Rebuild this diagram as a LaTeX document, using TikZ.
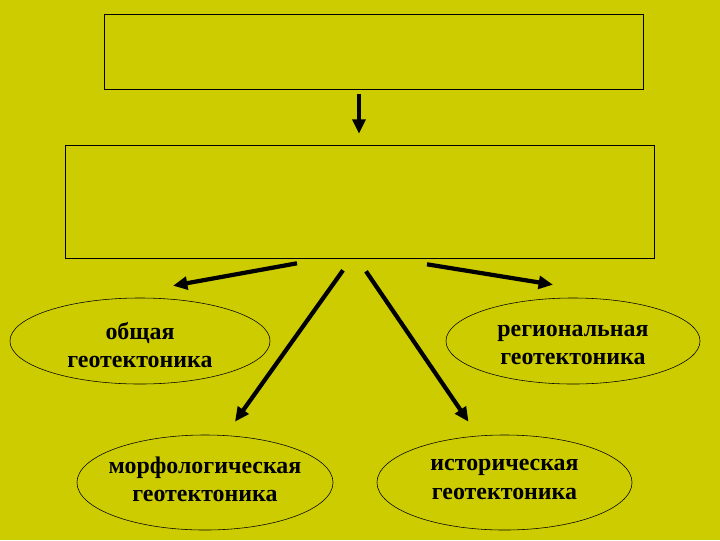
\documentclass[tikz,border=0pt]{standalone}
\usepackage{fontspec}
\setmainfont{Liberation Serif}
\usepackage{tikz}
\usetikzlibrary{arrows, arrows.meta, calc, positioning, shapes.geometric}
\definecolor{olivebg}{RGB}{204,204,0}
\tikzset{
>={Triangle[length=3.6mm, width=3.2mm]}, % filled triangular heads
box/.style={draw, thin, minimum width=#1, inner sep=0pt},
branch/.style={draw, ellipse, thin, inner sep=0pt},
caption/.style={align=center, inner sep=0pt, font=\fontsize{17}{20}\selectfont\bfseries},
arr/.style={->, line width=3pt},
}

\begin{document}
\begin{tikzpicture}[x=0.025cm,y=-0.025cm]
  \fill[olivebg] (0,0) rectangle (720,540);
  \useasboundingbox (0,0) rectangle (720,540);

  % two empty boxes on top
  \node[box=13.475cm, minimum height=1.875cm] (top) at (373.5,51.5) {};
  \node[box=14.725cm, minimum height=2.825cm] (mid) at (359.5,201.5) {};

  % the four branches
  \node[branch, minimum width=6.5cm, minimum height=2.15cm] (gen) at (140,341) {};
  \node[branch, minimum width=6.35cm, minimum height=2.15cm] (reg) at (573,341) {};
  \node[branch, minimum width=6.4cm, minimum height=2.375cm] (morph) at (205,482.5) {};
  \node[branch, minimum width=6.375cm, minimum height=2.375cm] (hist) at (504.5,482.5) {};

  \node[caption] (gentext) at ($(gen)+(0,4)$) {общая\\геотектоника};
  \node[caption] (regtext) at ($(reg)+(0,4)$) {региональная\\геотектоника};
  \node[caption] (morphtext) at ($(morph)+(0,-3)$) {морфологическая\\геотектоника};
  \node[caption] (histtext) at ($(hist)+(0,-3)$) {историческая\\геотектоника};

  \draw[arr] ($(top.south)+(-14.5,5)$) -- ($(mid.north)+(-0.5,-11)$);

  \draw[arr] ($(mid.south)+(-62.5,5)$) -- ($(gen.north)+(33,-12)$);
  \draw[arr] ($(mid.south)+(67.5,6)$) -- ($(reg.north)+(-20,-13)$);
  \draw[arr] ($(mid.south)+(-16.5,12)$) -- ($(morph.north)+(30,-13)$);
  \draw[arr] ($(mid.south)+(6.5,13)$) -- ($(hist.north)+(-36,-13)$);
\end{tikzpicture}
\end{document}
